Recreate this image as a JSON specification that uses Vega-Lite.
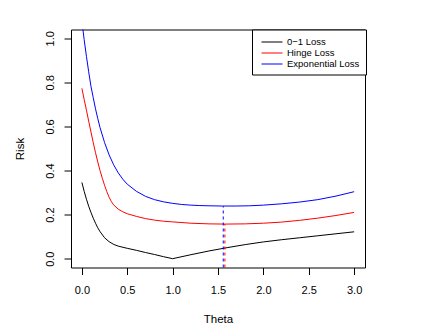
{
  "$schema": "https://vega.github.io/schema/vega-lite/v6.json",
  "width": 294,
  "height": 238,
  "autosize": {"type": "none"},
  "padding": {"left": 71, "top": 29.5, "right": 71, "bottom": 59.5},
  "background": "white",
  "config": {
    "view": {"stroke": "black", "strokeWidth": 1},
    "font": "Liberation Sans",
    "axis": {
      "grid": false,
      "domain": false,
      "tickColor": "black",
      "tickSize": 7,
      "tickWidth": 1,
      "labelColor": "black",
      "labelFont": "Liberation Sans",
      "labelFontSize": 11,
      "titleColor": "black",
      "titleFont": "Liberation Sans",
      "titleFontSize": 11.5,
      "titleFontWeight": "normal"
    },
    "legend": {
      "orient": "none",
      "legendX": 181,
      "legendY": 0,
      "strokeColor": "black",
      "fillColor": "white",
      "padding": 6,
      "symbolType": "M-0.5,0H3",
      "symbolSize": 144,
      "symbolStrokeWidth": 1,
      "symbolFillColor": "transparent",
      "labelFont": "Liberation Sans",
      "labelFontSize": 9.5,
      "labelColor": "black",
      "labelOffset": 16,
      "rowPadding": 0,
      "cornerRadius": 0
    }
  },
  "datasets": {
    "curves": [
      {"theta": 0.0, "risk": 0.346, "loss": "0−1 Loss"},
      {"theta": 0.025, "risk": 0.306, "loss": "0−1 Loss"},
      {"theta": 0.05, "risk": 0.27, "loss": "0−1 Loss"},
      {"theta": 0.075, "risk": 0.238, "loss": "0−1 Loss"},
      {"theta": 0.1, "risk": 0.21, "loss": "0−1 Loss"},
      {"theta": 0.125, "risk": 0.184, "loss": "0−1 Loss"},
      {"theta": 0.15, "risk": 0.161, "loss": "0−1 Loss"},
      {"theta": 0.175, "risk": 0.14, "loss": "0−1 Loss"},
      {"theta": 0.2, "risk": 0.123, "loss": "0−1 Loss"},
      {"theta": 0.25, "risk": 0.095, "loss": "0−1 Loss"},
      {"theta": 0.3, "risk": 0.077, "loss": "0−1 Loss"},
      {"theta": 0.35, "risk": 0.065, "loss": "0−1 Loss"},
      {"theta": 0.4, "risk": 0.057, "loss": "0−1 Loss"},
      {"theta": 0.5, "risk": 0.047, "loss": "0−1 Loss"},
      {"theta": 0.6, "risk": 0.038, "loss": "0−1 Loss"},
      {"theta": 0.7, "risk": 0.028, "loss": "0−1 Loss"},
      {"theta": 0.8, "risk": 0.019, "loss": "0−1 Loss"},
      {"theta": 0.9, "risk": 0.009, "loss": "0−1 Loss"},
      {"theta": 1.0, "risk": 0.0, "loss": "0−1 Loss"},
      {"theta": 1.2, "risk": 0.018, "loss": "0−1 Loss"},
      {"theta": 1.4, "risk": 0.035, "loss": "0−1 Loss"},
      {"theta": 1.6, "risk": 0.05, "loss": "0−1 Loss"},
      {"theta": 1.8, "risk": 0.064, "loss": "0−1 Loss"},
      {"theta": 2.0, "risk": 0.076, "loss": "0−1 Loss"},
      {"theta": 2.2, "risk": 0.086, "loss": "0−1 Loss"},
      {"theta": 2.4, "risk": 0.095, "loss": "0−1 Loss"},
      {"theta": 2.6, "risk": 0.104, "loss": "0−1 Loss"},
      {"theta": 2.8, "risk": 0.113, "loss": "0−1 Loss"},
      {"theta": 3.0, "risk": 0.122, "loss": "0−1 Loss"},

      {"theta": 0.0, "risk": 0.773, "loss": "Hinge Loss"},
      {"theta": 0.025, "risk": 0.723, "loss": "Hinge Loss"},
      {"theta": 0.05, "risk": 0.674, "loss": "Hinge Loss"},
      {"theta": 0.075, "risk": 0.624, "loss": "Hinge Loss"},
      {"theta": 0.1, "risk": 0.575, "loss": "Hinge Loss"},
      {"theta": 0.125, "risk": 0.527, "loss": "Hinge Loss"},
      {"theta": 0.15, "risk": 0.481, "loss": "Hinge Loss"},
      {"theta": 0.175, "risk": 0.439, "loss": "Hinge Loss"},
      {"theta": 0.2, "risk": 0.4, "loss": "Hinge Loss"},
      {"theta": 0.225, "risk": 0.365, "loss": "Hinge Loss"},
      {"theta": 0.25, "risk": 0.333, "loss": "Hinge Loss"},
      {"theta": 0.275, "risk": 0.304, "loss": "Hinge Loss"},
      {"theta": 0.3, "risk": 0.279, "loss": "Hinge Loss"},
      {"theta": 0.325, "risk": 0.259, "loss": "Hinge Loss"},
      {"theta": 0.35, "risk": 0.244, "loss": "Hinge Loss"},
      {"theta": 0.4, "risk": 0.225, "loss": "Hinge Loss"},
      {"theta": 0.45, "risk": 0.213, "loss": "Hinge Loss"},
      {"theta": 0.5, "risk": 0.204, "loss": "Hinge Loss"},
      {"theta": 0.6, "risk": 0.192, "loss": "Hinge Loss"},
      {"theta": 0.7, "risk": 0.182, "loss": "Hinge Loss"},
      {"theta": 0.8, "risk": 0.175, "loss": "Hinge Loss"},
      {"theta": 0.9, "risk": 0.17, "loss": "Hinge Loss"},
      {"theta": 1.0, "risk": 0.167, "loss": "Hinge Loss"},
      {"theta": 1.2, "risk": 0.161, "loss": "Hinge Loss"},
      {"theta": 1.4, "risk": 0.158, "loss": "Hinge Loss"},
      {"theta": 1.58, "risk": 0.157, "loss": "Hinge Loss"},
      {"theta": 1.8, "risk": 0.158, "loss": "Hinge Loss"},
      {"theta": 2.0, "risk": 0.161, "loss": "Hinge Loss"},
      {"theta": 2.2, "risk": 0.166, "loss": "Hinge Loss"},
      {"theta": 2.4, "risk": 0.174, "loss": "Hinge Loss"},
      {"theta": 2.6, "risk": 0.184, "loss": "Hinge Loss"},
      {"theta": 2.8, "risk": 0.196, "loss": "Hinge Loss"},
      {"theta": 3.0, "risk": 0.21, "loss": "Hinge Loss"},

      {"theta": 0.0, "risk": 1.08, "loss": "Exponential Loss"},
      {"theta": 0.025, "risk": 0.994, "loss": "Exponential Loss"},
      {"theta": 0.05, "risk": 0.918, "loss": "Exponential Loss"},
      {"theta": 0.075, "risk": 0.848, "loss": "Exponential Loss"},
      {"theta": 0.1, "risk": 0.782, "loss": "Exponential Loss"},
      {"theta": 0.125, "risk": 0.731, "loss": "Exponential Loss"},
      {"theta": 0.15, "risk": 0.68, "loss": "Exponential Loss"},
      {"theta": 0.175, "risk": 0.636, "loss": "Exponential Loss"},
      {"theta": 0.2, "risk": 0.595, "loss": "Exponential Loss"},
      {"theta": 0.25, "risk": 0.527, "loss": "Exponential Loss"},
      {"theta": 0.3, "risk": 0.471, "loss": "Exponential Loss"},
      {"theta": 0.35, "risk": 0.426, "loss": "Exponential Loss"},
      {"theta": 0.4, "risk": 0.39, "loss": "Exponential Loss"},
      {"theta": 0.45, "risk": 0.361, "loss": "Exponential Loss"},
      {"theta": 0.5, "risk": 0.338, "loss": "Exponential Loss"},
      {"theta": 0.6, "risk": 0.306, "loss": "Exponential Loss"},
      {"theta": 0.7, "risk": 0.283, "loss": "Exponential Loss"},
      {"theta": 0.8, "risk": 0.268, "loss": "Exponential Loss"},
      {"theta": 0.9, "risk": 0.258, "loss": "Exponential Loss"},
      {"theta": 1.0, "risk": 0.251, "loss": "Exponential Loss"},
      {"theta": 1.1, "risk": 0.246, "loss": "Exponential Loss"},
      {"theta": 1.2, "risk": 0.243, "loss": "Exponential Loss"},
      {"theta": 1.3, "risk": 0.241, "loss": "Exponential Loss"},
      {"theta": 1.4, "risk": 0.24, "loss": "Exponential Loss"},
      {"theta": 1.55, "risk": 0.239, "loss": "Exponential Loss"},
      {"theta": 1.7, "risk": 0.239, "loss": "Exponential Loss"},
      {"theta": 1.85, "risk": 0.24, "loss": "Exponential Loss"},
      {"theta": 2.0, "risk": 0.243, "loss": "Exponential Loss"},
      {"theta": 2.2, "risk": 0.249, "loss": "Exponential Loss"},
      {"theta": 2.4, "risk": 0.257, "loss": "Exponential Loss"},
      {"theta": 2.6, "risk": 0.268, "loss": "Exponential Loss"},
      {"theta": 2.8, "risk": 0.284, "loss": "Exponential Loss"},
      {"theta": 3.0, "risk": 0.304, "loss": "Exponential Loss"}
    ],
    "minima": [
      {"theta": 1.576, "low": -0.04, "risk": 0.157, "loss": "Hinge Loss"},
      {"theta": 1.558, "low": -0.04, "risk": 0.239, "loss": "Exponential Loss"}
    ]
  },
  "layer": [
    {
      "data": {"name": "curves"},
      "mark": {"type": "line", "clip": true, "strokeWidth": 1, "interpolate": "linear"},
      "encoding": {
        "x": {
          "field": "theta", "type": "quantitative",
          "scale": {"domain": [-0.12, 3.12], "nice": false, "zero": false},
          "axis": {"values": [0, 0.5, 1, 1.5, 2, 2.5, 3], "format": ".1f", "title": "Theta", "labelPadding": 10, "titlePadding": 18}
        },
        "y": {
          "field": "risk", "type": "quantitative",
          "scale": {"domain": [-0.04, 1.04], "nice": false, "zero": false},
          "axis": {"values": [0, 0.2, 0.4, 0.6, 0.8, 1.0], "format": ".1f", "title": "Risk", "labelAngle": -90, "labelAlign": "center", "labelBaseline": "bottom", "labelPadding": 9, "titlePadding": 19}
        },
        "color": {
          "field": "loss", "type": "nominal",
          "scale": {"domain": ["0−1 Loss", "Hinge Loss", "Exponential Loss"], "range": ["black", "red", "blue"]},
          "legend": {"title": null}
        }
      }
    },
    {
      "data": {"name": "minima"},
      "mark": {"type": "rule", "strokeWidth": 1, "strokeDash": [3, 3]},
      "encoding": {
        "x": {"field": "theta", "type": "quantitative"},
        "y": {"field": "low", "type": "quantitative"},
        "y2": {"field": "risk"},
        "color": {"field": "loss", "type": "nominal", "legend": null}
      }
    }
  ]
}
